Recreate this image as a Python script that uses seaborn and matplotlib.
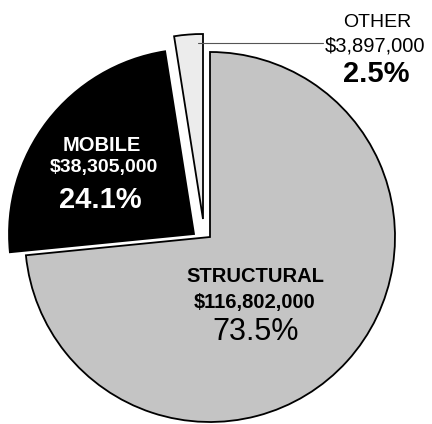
import matplotlib
matplotlib.use("Agg")
import matplotlib.pyplot as plt
import seaborn as sns

# data
categories = ["STRUCTURAL", "MOBILE", "OTHER"]
amounts = ["$116,802,000", "$38,305,000", "$3,897,000"]
shares = [73.5, 24.1, 2.5]

sns.set_theme(style="white")
plt.rcParams['font.family'] = ['Liberation Sans', 'DejaVu Sans']

W, H = 432, 424
fig = plt.figure(figsize=(W / 100, H / 100), dpi=100)
ax = fig.add_axes([0, 0, 1, 1])

colors = ["#c4c4c4", "#000000", "#ececec"]
cx, cy, R = 210, H - 237, 185

wedges, _ = ax.pie(
    shares,
    colors=colors,
    startangle=90,
    counterclock=False,
    center=(cx, cy),
    radius=R,
    wedgeprops=dict(edgecolor="black", linewidth=1.3),
)

# pull-out of the small slices (pixels, x right / y up)
shift = {1: (-16, 3), 2: (-7, 18)}
for i, (dx, dy) in shift.items():
    wedges[i].set_center((cx + dx, cy + dy))

ax.set_xlim(0, W)
ax.set_ylim(0, H)
ax.set_aspect('equal')
ax.axis('off')


def put(x, y_down, s, size, weight="normal", color="black"):
    ax.text(x, H - y_down, s, ha="center", va="baseline",
            fontsize=size, fontweight=weight, color=color)


# mobile labels
put(102, 151, categories[1], 14.5, "bold", "white")
put(104, 172, amounts[1], 14, "bold", "white")
put(100, 208, f"{shares[1]}%", 21, "bold", "white")

# structural labels
put(255, 282, categories[0], 14.5, "bold")
put(255, 308, amounts[0], 14.5, "bold")
put(256, 340, f"{shares[0]}%", 22)

# other labels + leader line
put(377, 27, categories[2], 14)
put(375, 51, amounts[2], 14.5)
put(376, 82, f"{shares[2]}%", 21, "bold")
ax.plot([198, 323], [H - 43, H - 43], color="#555555", linewidth=0.8)

fig.savefig("out.png", dpi=100)
